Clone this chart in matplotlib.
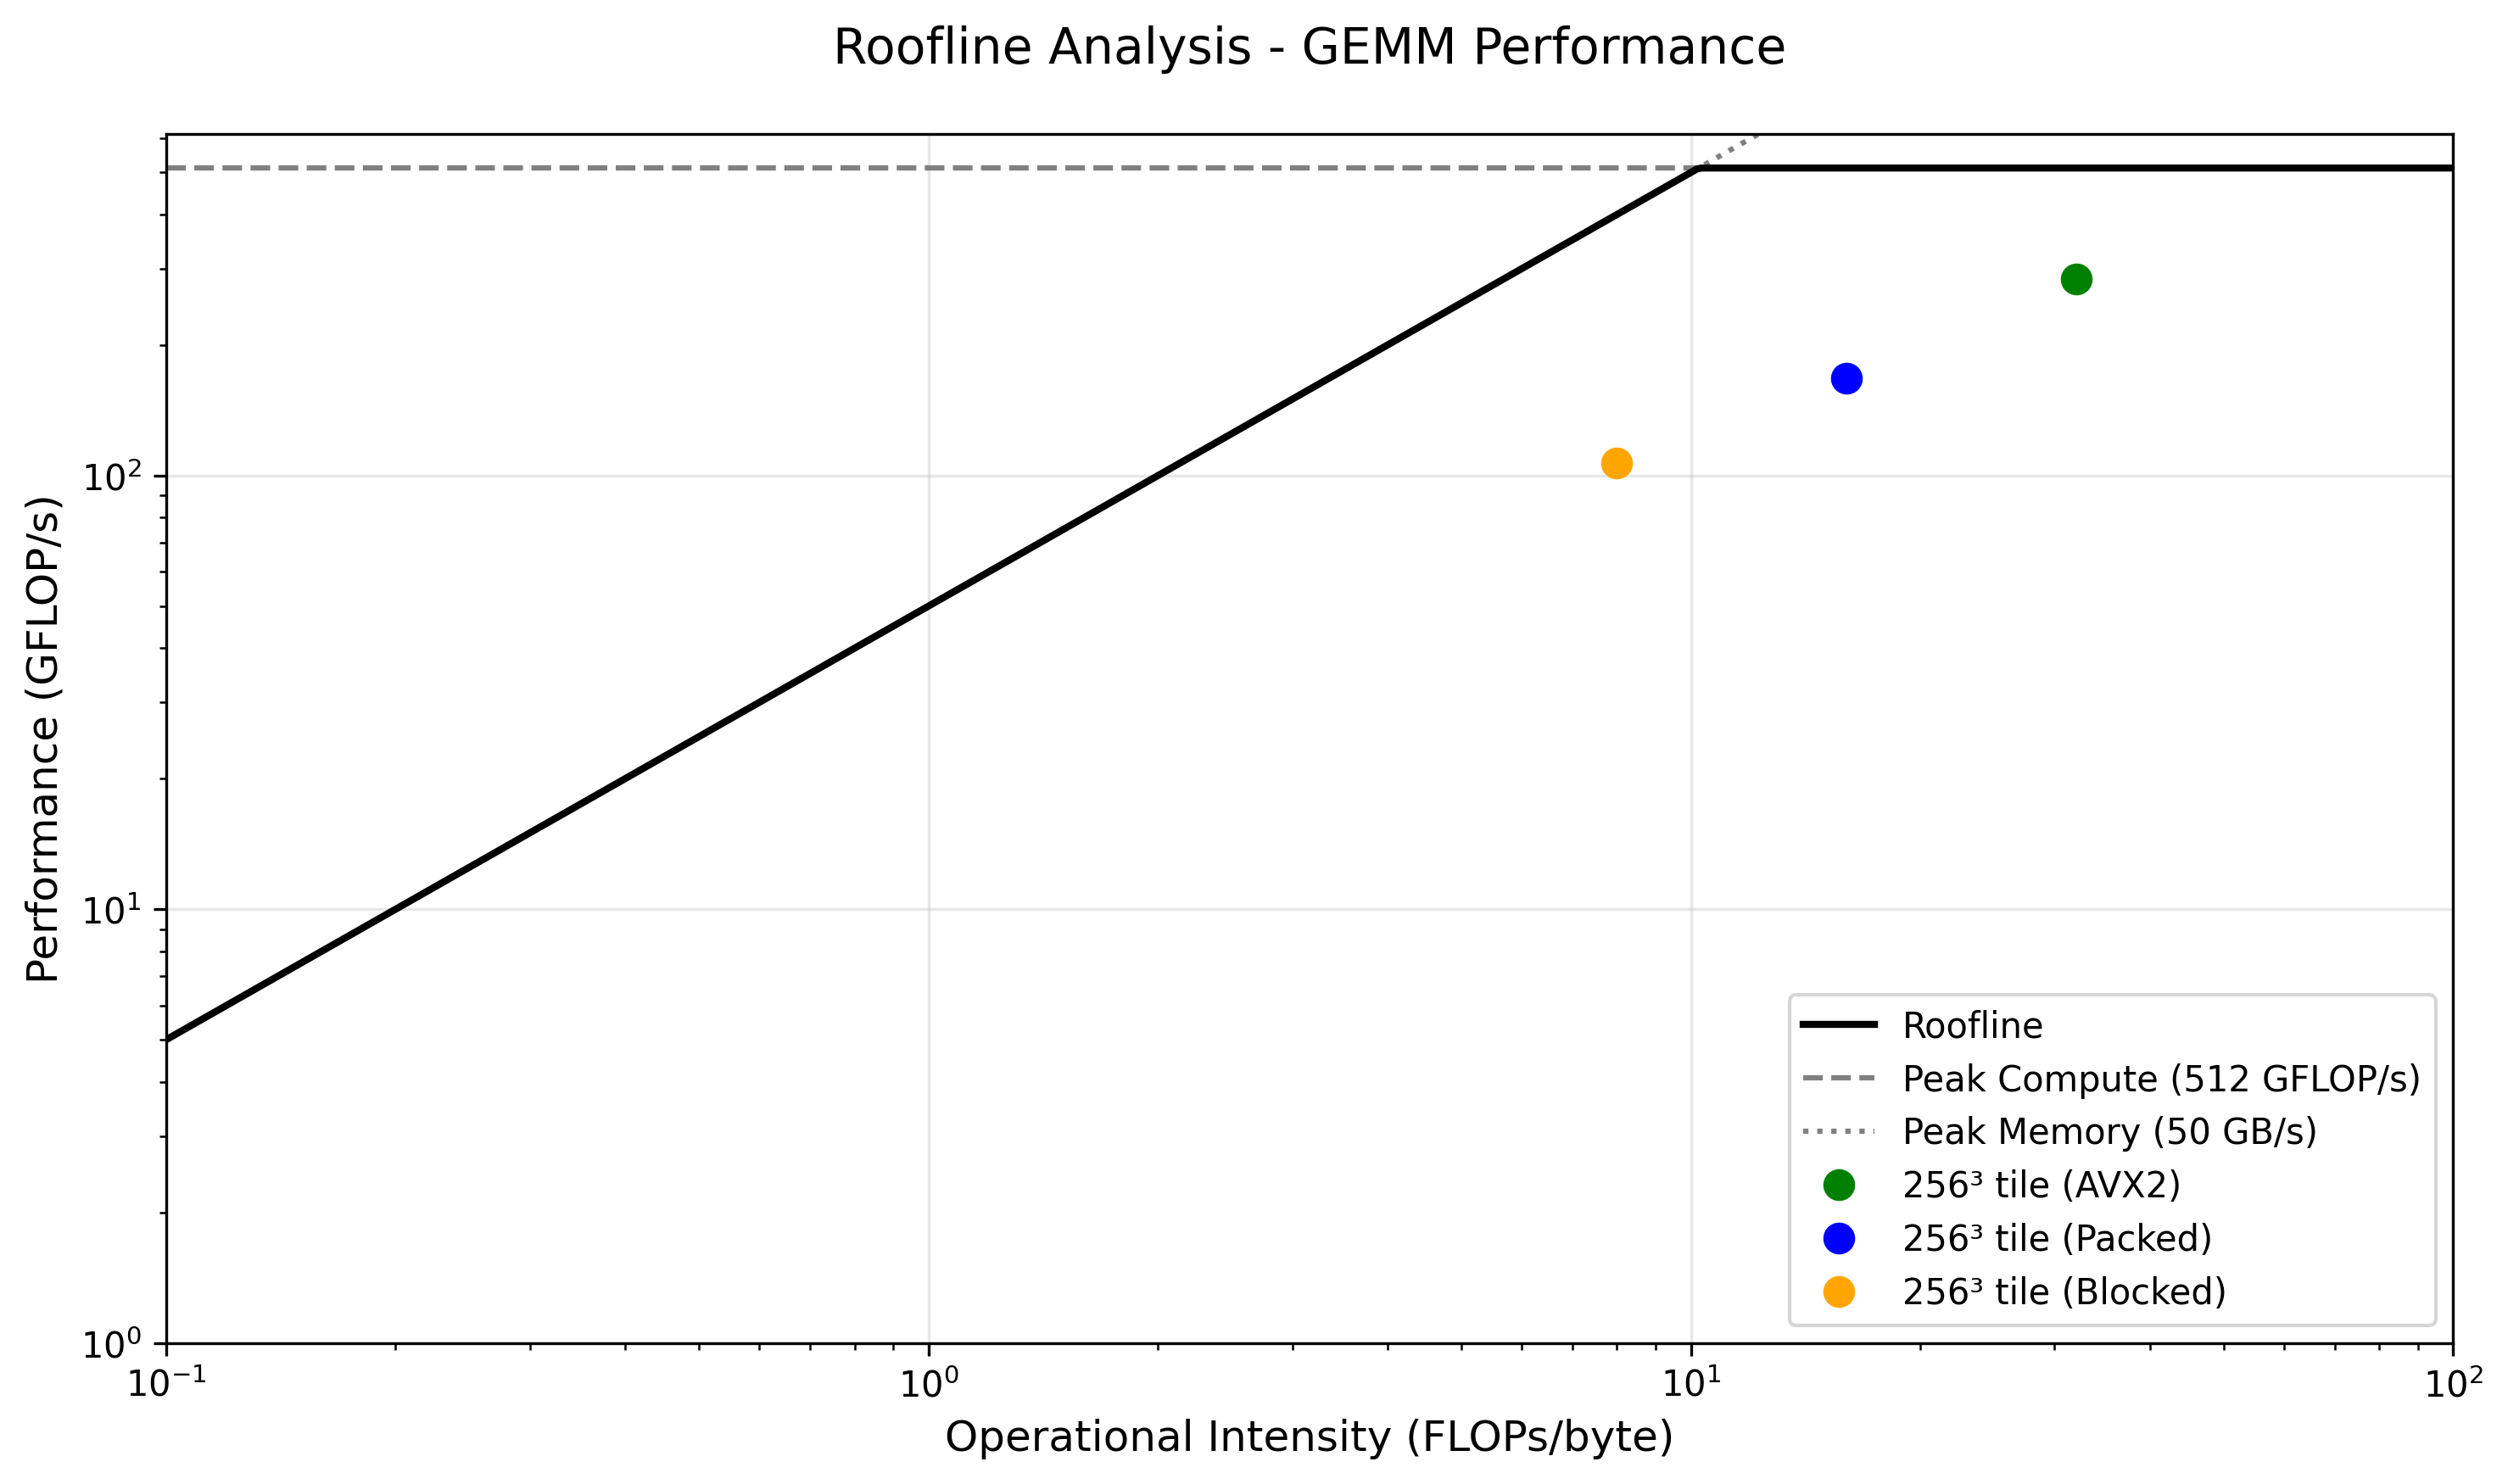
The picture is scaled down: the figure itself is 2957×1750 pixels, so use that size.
import numpy as np
import matplotlib
matplotlib.use("Agg")
import matplotlib.pyplot as plt

peak_compute = 512.0   # GFLOP/s
peak_bw = 50.0         # GB/s

labels = ["256³ tile (AVX2)", "256³ tile (Packed)", "256³ tile (Blocked)"]
intensity = [32.0, 16.0, 8.0]
perf = [284.0, 168.0, 107.0]
colors = ["green", "blue", "orange"]

oi = np.logspace(-1, 2, 500)
roof = np.minimum(peak_bw * oi, peak_compute)

fig, ax = plt.subplots(figsize=(10, 6))

ax.loglog(oi, roof, "k-", linewidth=2, label="Roofline", zorder=3)
ax.axhline(peak_compute, color="gray", linestyle="--", linewidth=1.5,
           label=f"Peak Compute ({int(peak_compute)} GFLOP/s)")
ax.loglog(oi, peak_bw * oi, color="gray", linestyle=":", linewidth=1.5,
          label=f"Peak Memory ({int(peak_bw)} GB/s)")

for x, y, c, lab in zip(intensity, perf, colors, labels):
    ax.plot(x, y, "o", color=c, markersize=8, label=lab, zorder=4)

ax.set_xlim(0.1, 100)
ax.set_ylim(1, peak_compute * 1.2)
ax.set_xlabel("Operational Intensity (FLOPs/byte)", fontsize=12)
ax.set_ylabel("Performance (GFLOP/s)", fontsize=12)
ax.set_title("Roofline Analysis - GEMM Performance", fontsize=14, pad=20)
ax.grid(True, alpha=0.3)
ax.legend(loc="lower right")

plt.tight_layout()
plt.savefig("out.png", dpi=300, bbox_inches="tight")
